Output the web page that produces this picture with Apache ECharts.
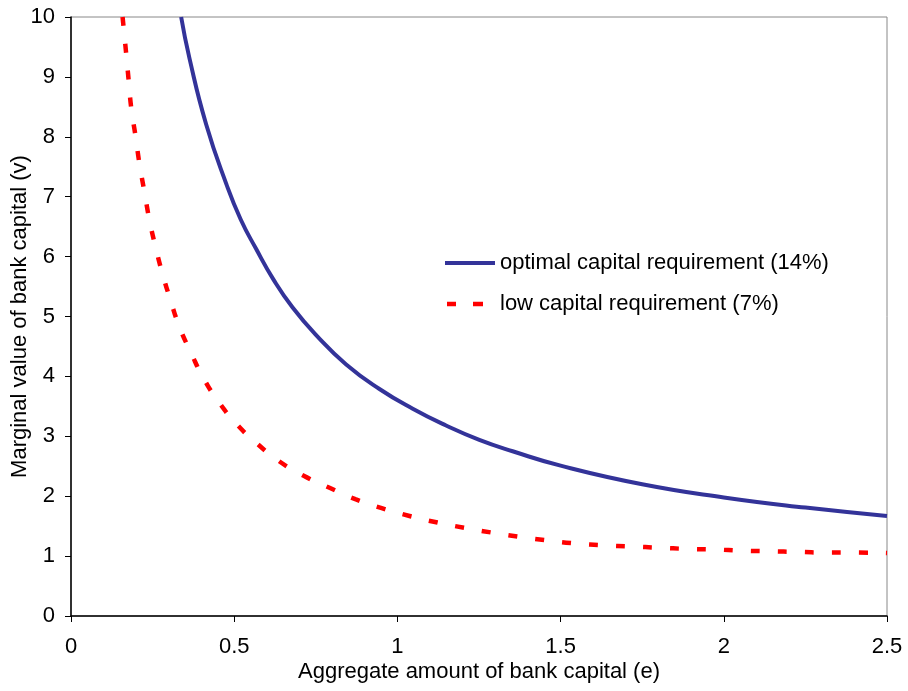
<!DOCTYPE html>
<html>
<head>
<meta charset="utf-8">
<script src="https://cdn.jsdelivr.net/npm/echarts@6/dist/echarts.min.js"></script>
<style>
html,body{margin:0;padding:0;background:#fff;}
#chart{width:908px;height:691px;}
</style>
</head>
<body>
<div id="chart"></div>
<script>
var seriesNames = ['optimal capital requirement (14%)', 'low capital requirement (7%)'];
var eOptimal = [0.3375, 0.363, 0.414, 0.476, 0.52, 0.567, 0.62, 0.679, 0.751, 0.843, 0.945, 1.047, 1.149, 1.251, 1.353, 1.5, 1.75, 2.0, 2.25, 2.5];
var vOptimal = [10, 9.31, 8.21, 7.21, 6.62, 6.13, 5.62, 5.15, 4.69, 4.20, 3.79, 3.46, 3.18, 2.94, 2.75, 2.51, 2.2, 1.98, 1.81, 1.67];
var eLow = [0.158, 0.169, 0.177, 0.185, 0.198, 0.210, 0.225, 0.240, 0.259, 0.280, 0.305, 0.332, 0.368, 0.406, 0.453, 0.508, 0.570, 0.636, 0.713, 0.792, 0.871, 0.952, 1.037, 1.123, 1.208, 1.292, 1.377, 1.462, 1.547, 1.632, 1.717, 1.802, 1.887, 1.972, 2.057, 2.141, 2.226, 2.311, 2.396, 2.5];
var vLow = [10, 9.39, 8.92, 8.46, 8.0, 7.54, 7.08, 6.62, 6.16, 5.72, 5.27, 4.83, 4.39, 3.97, 3.57, 3.20, 2.88, 2.59, 2.34, 2.14, 1.95, 1.80, 1.67, 1.56, 1.47, 1.39, 1.32, 1.26, 1.21, 1.18, 1.16, 1.14, 1.12, 1.11, 1.09, 1.08, 1.07, 1.06, 1.06, 1.05];
var xTicks = {min: 0, max: 2.5, interval: 0.5};
var yTicks = {min: 0, max: 10, interval: 1};
var xName = 'Aggregate amount of bank capital (e)';
var yName = 'Marginal value of bank capital (v)';

function zip(a, b) { return a.map(function (x, i) { return [x, b[i]]; }); }

var font = 'Liberation Sans, Arial, sans-serif';
var solidIcon = 'path://M0 0H50V4H0Z';
var dashIcon = 'path://M2 0H11V4.5H2Z M28 0H38V4.5H28Z M0 0H0.01V0.01H0Z M50 0H49.99V0.01H50Z';
var chart = echarts.init(document.getElementById('chart'));
chart.setOption({
  animation: false,
  backgroundColor: '#fff',
  grid: {left: 71, right: 21, top: 17, bottom: 75, show: true, borderColor: '#888', borderWidth: 1, containLabel: false, outerBoundsMode: 'none'},
  legend: {
    orient: 'vertical', left: 440, top: 247,
    itemWidth: 50, itemHeight: 22, itemGap: 19,
    textStyle: {fontFamily: font, fontSize: 22, color: '#000'},
    data: [{name: seriesNames[0], icon: solidIcon}, {name: seriesNames[1], icon: dashIcon}]
  },
  xAxis: {
    type: 'value', min: xTicks.min, max: xTicks.max, interval: xTicks.interval,
    name: xName, nameLocation: 'middle', nameGap: 45, nameMoveOverlap: false,
    nameTextStyle: {fontFamily: font, fontSize: 22, color: '#000'},
    axisLine: {show: true, onZero: false, lineStyle: {color: '#000', width: 1.5}},
    axisTick: {show: true, inside: false, length: 6, lineStyle: {color: '#000'}},
    axisLabel: {fontFamily: font, fontSize: 22, color: '#000', margin: 20},
    splitLine: {show: false}
  },
  yAxis: {
    type: 'value', min: yTicks.min, max: yTicks.max, interval: yTicks.interval,
    name: yName, nameLocation: 'middle', nameGap: 40, nameMoveOverlap: false,
    nameTextStyle: {fontFamily: font, fontSize: 22, color: '#000'},
    axisLine: {show: true, onZero: false, lineStyle: {color: '#000', width: 1.5}},
    axisTick: {show: true, inside: false, length: 6, lineStyle: {color: '#000'}},
    axisLabel: {fontFamily: font, fontSize: 22, color: '#000', margin: 16},
    splitLine: {show: false}
  },
  series: [
    {
      name: seriesNames[0], type: 'line', smooth: 0.5, symbol: 'none', showSymbol: false,
      data: zip(eOptimal, vOptimal),
      lineStyle: {color: '#333399', width: 4},
      itemStyle: {color: '#333399'}
    },
    {
      name: seriesNames[1], type: 'line', smooth: 0.5, symbol: 'none', showSymbol: false,
      data: zip(eLow, vLow),
      lineStyle: {color: '#ff0000', width: 4.5, type: [9, 18]},
      itemStyle: {color: '#ff0000'}
    }
  ]
});
</script>
</body>
</html>
